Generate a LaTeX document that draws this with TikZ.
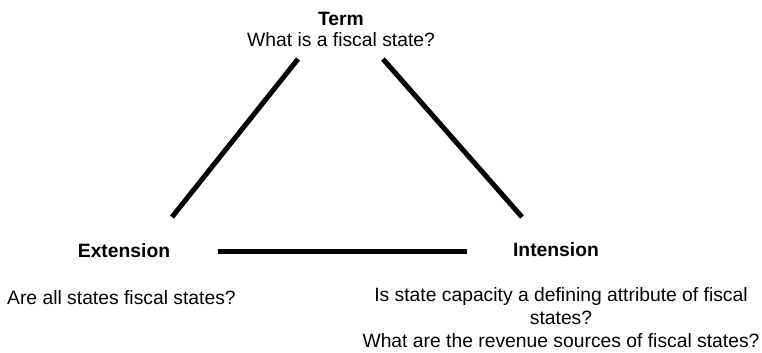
\documentclass[tikz,border=0pt]{standalone}
\usepackage{fontspec}
\setmainfont{Liberation Sans}
\usetikzlibrary{positioning,calc}

\begin{document}
\begin{tikzpicture}[
    x=1bp, y=-1bp,
    title/.style={font=\fontsize{19.3bp}{23bp}\selectfont\bfseries, inner sep=0pt, anchor=base},
    question/.style={font=\fontsize{19.3bp}{23bp}\selectfont, inner sep=0pt, anchor=base, align=center},
    edge/.style={line width=5bp, black}
]
\useasboundingbox (0,0) rectangle (762,352);

% Term (top)
\node[title] (term) at (341,25) {Term};
\node[question] (termq) at (341,46) {What is a fiscal state?};

% Extension (bottom left)
\node[title] (ext) at (124,257) {Extension};
\node[question, anchor=base west] (extq) at (7,304) {Are all states fiscal states?};

% Intension (bottom right)
\node[title] (int) at (556,256) {Intension};
\node[question] (intq) at (561,347) {Is state capacity a defining attribute of fiscal\\states?\\What are the revenue sources of fiscal states?};

% End points of the triangle sides
\coordinate (termL) at (298,59);
\coordinate (termR) at (383,59);
\coordinate (extT) at (172,217);
\coordinate (intT) at (522,217);
\coordinate (extR) at (218,251);
\coordinate (intL) at (467,251);

% Triangle sides
\draw[edge] (termL) -- (extT);
\draw[edge] (termR) -- (intT);
\draw[edge] (extR) -- (intL);

\end{tikzpicture}
\end{document}
